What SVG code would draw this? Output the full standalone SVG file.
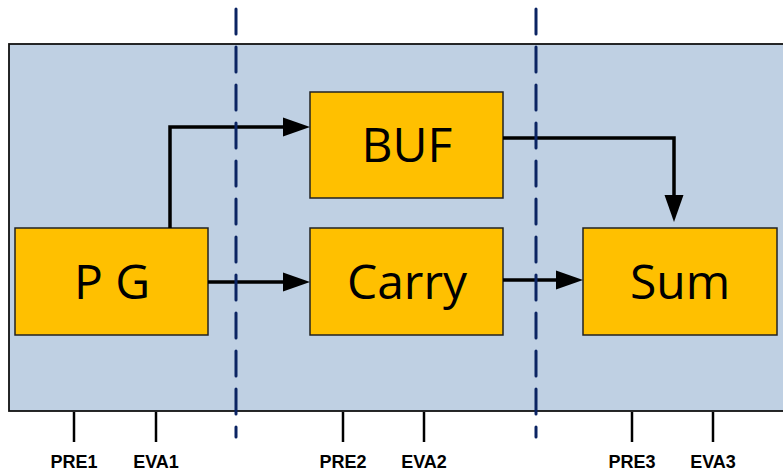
<svg xmlns="http://www.w3.org/2000/svg" width="783" height="473" viewBox="0 0 783 473">
<style>
.box{fill:#FFC000;stroke:#222;stroke-width:1.5}
.lbl{font-family:"Open Sans","Noto Sans",sans-serif;font-size:48px;fill:#000;text-anchor:middle}
.conn{fill:none;stroke:#000;stroke-width:3.5}
.stage{stroke:#0b2463;stroke-width:3;stroke-dasharray:25 13;stroke-linecap:round}
.tick{stroke:#000;stroke-width:2.5}
.tl{font-family:"Liberation Sans",Arial,sans-serif;font-weight:bold;font-size:18px;text-anchor:middle;fill:#000}
</style>
<defs>
<marker id="ah" markerUnits="userSpaceOnUse" markerWidth="30" markerHeight="22" refX="0" refY="0" orient="auto" viewBox="0 -11 30 22" overflow="visible">
<path d="M0,-9.5 L27,0 L0,9.5 z" fill="#000"/>
</marker>
</defs>
<rect x="9" y="44" width="790" height="367" fill="#BFD0E3" stroke="#111" stroke-width="1.8"/>
<g id="ticks">
<line class="tick" x1="74" y1="412" x2="74" y2="442"/>
<line class="tick" x1="156" y1="412" x2="156" y2="442"/>
<line class="tick" x1="343" y1="412" x2="343" y2="442"/>
<line class="tick" x1="424" y1="412" x2="424" y2="442"/>
<line class="tick" x1="632" y1="412" x2="632" y2="442"/>
<line class="tick" x1="713" y1="412" x2="713" y2="442"/>
<text class="tl" x="74" y="468">PRE1</text>
<text class="tl" x="156" y="468">EVA1</text>
<text class="tl" x="343" y="468">PRE2</text>
<text class="tl" x="424" y="468">EVA2</text>
<text class="tl" x="632" y="468">PRE3</text>
<text class="tl" x="713" y="468">EVA3</text>
</g>
<g id="pg"><rect class="box" x="15" y="228" width="193" height="107"/><text class="lbl" x="112" y="299">P G</text></g>
<g id="buf"><rect class="box" x="310" y="92" width="193" height="106"/><text class="lbl" x="407" y="162">BUF</text></g>
<g id="carry"><rect class="box" x="310" y="228" width="193" height="107"/><text class="lbl" x="407" y="299">Carry</text></g>
<g id="sum"><rect class="box" x="583" y="228" width="194" height="107"/><text class="lbl" x="680" y="299">Sum</text></g>
<g id="connectors">
<path class="conn" d="M170,228 V127 H283" marker-end="url(#ah)"/>
<path class="conn" d="M208,282 H283" marker-end="url(#ah)"/>
<path class="conn" d="M503,138 H674 V195" marker-end="url(#ah)"/>
<path class="conn" d="M503,280 H556" marker-end="url(#ah)"/>
</g>
<g id="stages">
<line class="stage" x1="236" y1="9" x2="236" y2="437"/>
<line class="stage" x1="536" y1="9" x2="536" y2="437"/>
</g>
</svg>
